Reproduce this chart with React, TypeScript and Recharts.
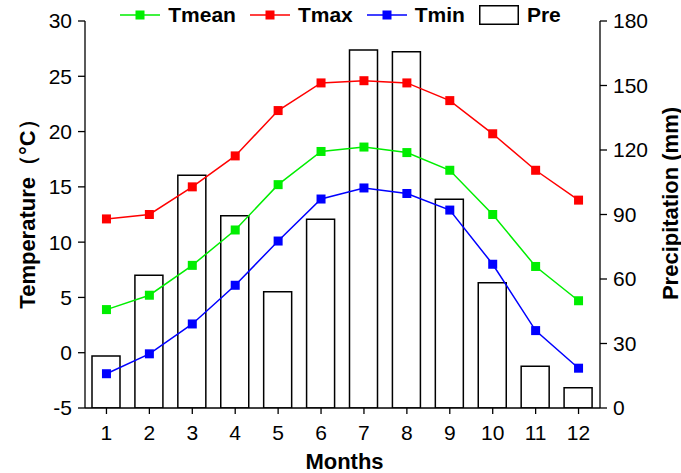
import React from 'react'
import { ComposedChart, Bar, Line, XAxis, YAxis, Legend } from 'recharts'

const months = ['1', '2', '3', '4', '5', '6', '7', '8', '9', '10', '11', '12']
const tMean = [3.9, 5.2, 7.9, 11.1, 15.2, 18.2, 18.6, 18.1, 16.5, 12.5, 7.8, 4.7]
const tMax = [12.1, 12.5, 15.0, 17.8, 21.9, 24.4, 24.6, 24.4, 22.8, 19.8, 16.5, 13.8]
const tMin = [-1.9, -0.1, 2.6, 6.1, 10.1, 13.9, 14.9, 14.4, 12.9, 8.0, 2.0, -1.4]
const pre = [24.2, 61.7, 108.2, 89.4, 54.1, 87.8, 166.5, 165.7, 97.1, 58.3, 19.4, 9.4]

const tempTicks = [-5, 0, 5, 10, 15, 20, 25, 30]
const preTicks = [0, 30, 60, 90, 120, 150, 180]

const data = months.map((m, i) => ({
  month: m,
  Tmean: tMean[i],
  Tmax: tMax[i],
  Tmin: tMin[i],
  Pre: pre[i],
}))

const FONT = 'Arial, "Liberation Sans", Helvetica, sans-serif'
const tick = { fill: '#000', fontSize: 21, fontFamily: FONT }
const axisLine = { stroke: '#000', strokeWidth: 1.3 }

const lines = [
  { key: 'Tmean', color: '#00ee00' },
  { key: 'Tmax', color: '#ff0000' },
  { key: 'Tmin', color: '#0000ff' },
]

function SquareDot({ cx, cy, color }: { cx?: number; cy?: number; color: string }) {
  if (cx == null || cy == null) return null
  return <rect x={cx - 4.5} y={cy - 4.5} width={9} height={9} fill={color} />
}

function AxisTitle({ viewBox, text, side }: { viewBox?: any; text: string; side: 'left' | 'right' | 'bottom' }) {
  if (!viewBox) return null
  const style = { fontFamily: FONT, fontWeight: 'bold' as const, fontSize: 22, fill: '#000' }
  if (side === 'bottom') {
    return (
      <text x={viewBox.x + viewBox.width / 2 + 2} y={viewBox.y + 61} textAnchor="middle" style={style}>
        {text}
      </text>
    )
  }
  const x = side === 'left' ? viewBox.x + 22 : viewBox.x + 70
  const y = viewBox.y + viewBox.height / 2 + (side === 'left' ? -6 : -11)
  return (
    <text x={x} y={y} textAnchor="middle" dominantBaseline="central" transform={`rotate(-90 ${x} ${y})`} style={style}>
      {text}
    </text>
  )
}

function ChartLegend() {
  const item = { display: 'flex', alignItems: 'center', marginRight: 14 }
  const label = { marginLeft: 8 }
  return (
    <div
      style={{
        display: 'flex',
        justifyContent: 'center',
        alignItems: 'center',
        fontFamily: FONT,
        fontWeight: 'bold',
        fontSize: 21,
        color: '#000',
        lineHeight: '22px',
      }}
    >
      {lines.map((l) => (
        <div key={l.key} style={item}>
          <svg width={40} height={20}>
            <line x1={0} y1={10} x2={40} y2={10} stroke={l.color} strokeWidth={1.5} />
            <rect x={15.5} y={5.5} width={9} height={9} fill={l.color} />
          </svg>
          <span style={label}>{l.key}</span>
        </div>
      ))}
      <div style={{ ...item, marginRight: 0 }}>
        <svg width={40} height={20}>
          <rect x={0.75} y={0.75} width={38.5} height={18.5} fill="#fff" stroke="#000" strokeWidth={1.5} />
        </svg>
        <span style={label}>Pre</span>
      </div>
    </div>
  )
}

export default function App() {
  return (
    <div style={{ position: 'absolute', left: 0, top: 0, background: '#fff' }}>
      <ComposedChart width={681} height={473} data={data} margin={{ top: 21, right: 1, bottom: 5, left: 5 }}>
        <XAxis
          dataKey="month"
          height={60}
          tick={tick}
          tickSize={6}
          tickMargin={11}
          axisLine={axisLine}
          tickLine={axisLine}
          label={<AxisTitle text="Months" side="bottom" />}
        />
        <YAxis
          yAxisId="left"
          width={80}
          domain={[-5, 30]}
          ticks={tempTicks}
          allowDataOverflow
          tick={tick}
          tickSize={7}
          tickMargin={6}
          axisLine={axisLine}
          tickLine={axisLine}
          label={<AxisTitle text="Temperature（°C）" side="left" />}
        />
        <YAxis
          yAxisId="right"
          orientation="right"
          width={80}
          domain={[0, 180]}
          ticks={preTicks}
          allowDataOverflow
          tick={tick}
          tickSize={7}
          tickMargin={6}
          axisLine={axisLine}
          tickLine={axisLine}
          label={<AxisTitle text="Precipitation (mm)" side="right" />}
        />
        <Legend
          verticalAlign="middle"
          align="center"
          layout="horizontal"
          content={<ChartLegend />}
          wrapperStyle={{ top: 4, left: 0, width: 681 }}
        />
        <Bar
          yAxisId="right"
          dataKey="Pre"
          barSize={28}
          fill="#fff"
          stroke="#000"
          strokeWidth={1.5}
          isAnimationActive={false}
        />
        {lines.map((l) => (
          <Line
            key={l.key}
            yAxisId="left"
            type="linear"
            dataKey={l.key}
            stroke={l.color}
            strokeWidth={1.5}
            dot={<SquareDot color={l.color} />}
            activeDot={false}
            isAnimationActive={false}
          />
        ))}
      </ComposedChart>
    </div>
  )
}
